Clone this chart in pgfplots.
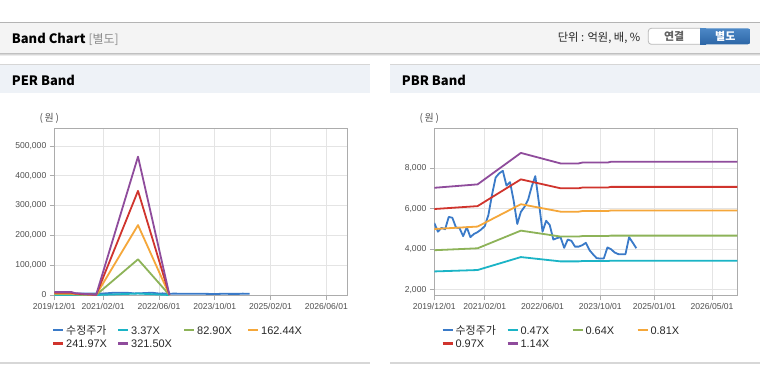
\documentclass[border=0pt]{standalone}
\usepackage{pgfplots}
\pgfplotsset{compat=1.18}
\usepackage{pgfplotstable}
\usepackage{fontspec}
\setmainfont{Liberation Sans}
\newfontfamily\kr{Noto Sans CJK KR}
\definecolor{cBlue}{RGB}{58,122,200}
\definecolor{cTeal}{RGB}{27,180,198}
\definecolor{cGreen}{RGB}{141,179,88}
\definecolor{cOrange}{RGB}{245,167,58}
\definecolor{cRed}{RGB}{208,52,45}
\definecolor{cPurple}{RGB}{143,76,156}
\definecolor{gridc}{RGB}{228,228,228}
\definecolor{axc}{RGB}{172,172,172}
\definecolor{tickc}{RGB}{80,80,80}
\definecolor{hdrbg}{RGB}{244,244,244}
\definecolor{panbg}{RGB}{238,242,247}
\definecolor{btnb}{RGB}{185,185,185}
\definecolor{bluetop}{RGB}{76,136,198}
\definecolor{bluebot}{RGB}{44,102,166}
\definecolor{txt}{RGB}{40,40,40}

% adjusted price (monthly, month 0 = 2019/12)
\pgfplotstableread{
m price
0 5300
1 4870
2 5060
3 4990
4 5600
5 5560
6 5080
7 5040
8 4650
9 5090
10 4600
11 4760
12 4850
13 4980
14 5150
15 5700
16 6700
17 7550
18 7760
19 7880
20 7150
21 7320
22 6400
23 5250
24 5850
25 6100
26 6450
27 7100
28 7620
29 6300
30 4870
31 5410
32 5200
33 4480
34 4550
35 4600
36 4070
37 4480
38 4420
39 4130
40 4130
41 4200
42 4320
43 3960
44 3750
45 3560
46 3540
47 3550
48 4090
49 4000
50 3840
51 3760
52 3750
53 3760
54 4600
55 4330
56 4050
}\price

% PER bands: 3.37X 82.90X 162.44X 241.97X 321.50X
\pgfplotstableread{
m a b c d e
0 101 2487 4873 7259 9645
5 101 2487 4873 7259 9645
6 64 1575 3086 4597 6109
12 7 166 325 484 643
24 4863 119625 234401 349163 463925
33 7 166 325 484 643
}\perband

% PBR bands: 0.47X 0.64X 0.81X 0.97X 1.14X
\pgfplotstableread{
m a b c d e
0 2903 3953 5003 5991 7041
12 2973 4048 5123 6135 7211
24 3614 4922 6229 7459 8767
35 3400 4630 5860 7017 8247
40 3400 4630 5860 7017 8247
41 3417 4653 5889 7052 8288
48 3417 4653 5889 7052 8288
49 3434 4676 5919 7088 8330
84 3434 4676 5919 7088 8330
}\pbrband

\pgfplotsset{
 bandax/.style={
  scale only axis, anchor=south west,
  xmin=0, xmax=84,
  axis line style={draw=axc, line width=0.9bp},
  xmajorgrids, ymajorgrids,
  major grid style={draw=gridc, line width=0.7bp},
  tick style={draw=axc, line width=0.7bp},
  major tick length=4.5bp, tick align=outside,
  tick pos=left,
  ticklabel style={font=\fontsize{8.6}{10}\selectfont, text=tickc},
  /pgf/number format/assume math mode=true,
  scaled y ticks=false,
  every axis plot/.append style={line width=1.8bp, line join=round, no markers},
  yticklabel style={/pgf/number format/.cd, fixed, precision=0, 1000 sep={,}},
 }
}

\newcommand{\lgd}[5]{%
  \draw[#3, line width=2.6bp] (#1,#2) -- ++(10,0);
  \node[anchor=base west, inner sep=0, text=txt, font=#5\fontsize{11}{13}\selectfont] at ({#1+12.7},{#2-4}) {#4};}

\begin{document}
\begin{tikzpicture}[x=1bp,y=1bp]
\path[use as bounding box] (0,0) rectangle (760,364);
\fill[white] (0,0) rectangle (760,364);

% top header bar
\fill[hdrbg] (0,311) rectangle (760,341);
\draw[color={rgb,255:red,180;green,180;blue,180}, line width=1bp] (0,341) -- (760,341);
\draw[color={rgb,255:red,192;green,192;blue,192}, line width=1bp] (0,311) -- (760,311);
\draw[color={rgb,255:red,215;green,215;blue,215}, line width=1bp] (0,310) -- (760,310);
\draw[color={rgb,255:red,236;green,236;blue,236}, line width=1bp] (0,309) -- (760,309);
\node[anchor=base west, inner sep=0, text=black, font=\kr\bfseries\fontsize{13}{15}\selectfont] at (11.7,321) {Band Chart};
\node[anchor=base west, inner sep=0, text={rgb,255:red,140;green,140;blue,140}, font=\kr\fontsize{12}{14}\selectfont] at (88.3,321) {[별도]};
\node[anchor=base east, inner sep=0, text=txt, font=\kr\fontsize{11.3}{13}\selectfont] at (640.5,323) {단위 : 억원, 배, \%};
% buttons
\draw[fill=white, draw=btnb, line width=0.8bp, rounded corners=3bp] (648.3,319.7) rectangle (704,335.7);
\shade[top color=bluetop, bottom color=bluebot, rounded corners=3bp] (700,319.7) rectangle (750.7,335.7);
\shade[top color=bluetop, bottom color=bluebot] (700,319.7) rectangle (706,335.7);
\node[inner sep=0, text={rgb,255:red,100;green,100;blue,100}, font=\kr\bfseries\fontsize{11}{13}\selectfont] at (674.2,327.5) {연결};
\node[inner sep=0, text=white, font=\kr\bfseries\fontsize{11}{13}\selectfont] at (725.3,327.5) {별도};

% panel headers
\fill[panbg] (0,271) rectangle (370,300);
\fill[panbg] (390,271) rectangle (760,300);
\draw[color={rgb,255:red,214;green,214;blue,214}, line width=1bp] (0,300) -- (370,300);
\draw[color={rgb,255:red,214;green,214;blue,214}, line width=1bp] (390,300) -- (760,300);
\node[anchor=base west, inner sep=0, text=black, font=\kr\bfseries\fontsize{13}{15}\selectfont] at (11.7,278.5) {PER Band};
\node[anchor=base west, inner sep=0, text=black, font=\kr\bfseries\fontsize{13}{15}\selectfont] at (401.7,278.5) {PBR Band};
% bottom lines
\draw[color={rgb,255:red,215;green,215;blue,215}, line width=1.5bp] (0,1) -- (370,1);
\draw[color={rgb,255:red,215;green,215;blue,215}, line width=1.5bp] (390,1) -- (760,1);

% unit labels
\node[inner sep=0, text=tickc, font=\kr\fontsize{10}{12}\selectfont] at (49.3,246) {(\,원\,)};
\node[inner sep=0, text=tickc, font=\kr\fontsize{10}{12}\selectfont] at (429.3,246) {(\,원\,)};

% PER Band
\begin{axis}[bandax, at={(54.3bp,69bp)}, width=293bp, height=167bp,
  ymin=0, ymax=560000, ytick={0,100000,200000,300000,400000,500000},
  xtick={0,14,30,46,62,78},
  xticklabels={2019/12/01,2021/02/01,2022/06/01,2023/10/01,2025/02/01,2026/06/01}]
\addplot[cBlue] table[x=m,y=price]{\price};
\addplot[cTeal] table[x=m,y=a]{\perband};
\addplot[cGreen] table[x=m,y=b]{\perband};
\addplot[cOrange] table[x=m,y=c]{\perband};
\addplot[cRed] table[x=m,y=d]{\perband};
\addplot[cPurple] table[x=m,y=e]{\perband};
\end{axis}

% PBR Band
\begin{axis}[bandax, at={(434.3bp,69bp)}, width=303bp, height=167bp,
  ymin=1737, ymax=10000, ytick={2000,4000,6000,8000},
  xtick={0,14,30,46,61,77},
  xticklabels={2019/12/01,2021/02/01,2022/06/01,2023/10/01,2025/01/01,2026/05/01}]
\addplot[cBlue] table[x=m,y=price]{\price};
\addplot[cTeal] table[x=m,y=a]{\pbrband};
\addplot[cGreen] table[x=m,y=b]{\pbrband};
\addplot[cOrange] table[x=m,y=c]{\pbrband};
\addplot[cRed] table[x=m,y=d]{\pbrband};
\addplot[cPurple] table[x=m,y=e]{\pbrband};
\end{axis}

% legends
\lgd{53.3}{34}{cBlue}{수정주가}{\kr}
\lgd{118.3}{34}{cTeal}{3.37X}{}
\lgd{184.3}{34}{cGreen}{82.90X}{}
\lgd{248.3}{34}{cOrange}{162.44X}{}
\lgd{53.3}{20.7}{cRed}{241.97X}{}
\lgd{118.3}{20.7}{cPurple}{321.50X}{}

\lgd{442.7}{34}{cBlue}{수정주가}{\kr}
\lgd{507.7}{34}{cTeal}{0.47X}{}
\lgd{572.7}{34}{cGreen}{0.64X}{}
\lgd{637.7}{34}{cOrange}{0.81X}{}
\lgd{442.7}{20.7}{cRed}{0.97X}{}
\lgd{507.7}{20.7}{cPurple}{1.14X}{}
\end{tikzpicture}
\end{document}
